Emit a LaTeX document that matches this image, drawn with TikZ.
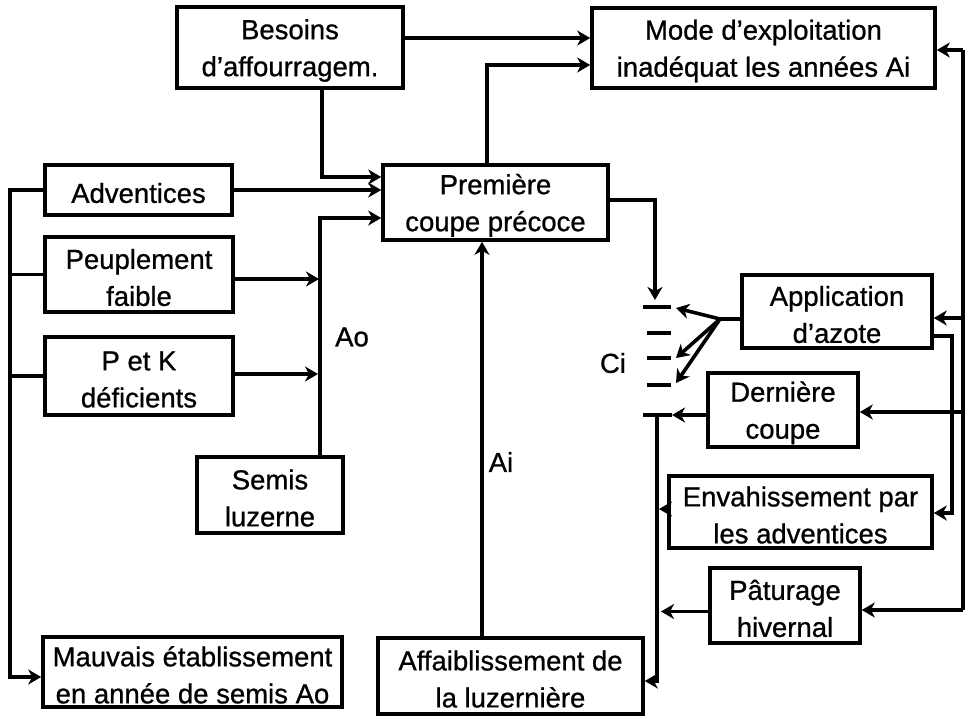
\documentclass[tikz,border=0pt]{standalone}
\usepackage{fontspec}
\setmainfont[FakeBold=0.8]{Liberation Sans}
\usetikzlibrary{arrows.meta,calc}
\newcommand\tup{\rule{0pt}{26pt}}
\begin{document}
\begin{tikzpicture}[x=1pt,y=-1pt,
  box/.style={draw,line width=3.6pt,align=center,inner sep=0pt,font=\fontsize{27.5}{37}\selectfont},
  arr/.style={line width=3.6pt,-{Stealth[length=13pt,width=15pt,inset=4pt]}},
  ln/.style={line width=3.6pt},
  dsh/.style={line width=3.6pt},
  lbl/.style={font=\fontsize{27.5}{37}\selectfont,inner sep=0pt}]
\useasboundingbox[fill=white] (0,0) rectangle (971,718);

% boxes
\node[box,minimum width=226pt,minimum height=81pt] (bes) at (290,47.5) {\tup Besoins\\d’affourragem.};
\node[box,minimum width=343pt,minimum height=80pt] (mode) at (763.5,48) {\tup Mode d’exploitation\\inadéquat les années Ai};
\node[box,minimum width=187pt,minimum height=50pt] (adv) at (138.5,190) {\tup Adventices};
\node[box,minimum width=225pt,minimum height=75pt] (prem) at (495.5,202.5) {\tup Première\\coupe précoce};
\node[box,minimum width=188pt,minimum height=75pt] (peu) at (139,274.5) {\tup Peuplement\\faible};
\node[box,minimum width=188pt,minimum height=78pt] (pk) at (139,376) {\tup P et K\\déficients};
\node[box,minimum width=146pt,minimum height=76pt] (sem) at (270,495) {\tup Semis\\luzerne};
\node[box,minimum width=299pt,minimum height=70pt] (mauv) at (192.5,672) {\tup Mauvais établissement\\en année de semis Ao};
\node[box,minimum width=265pt,minimum height=76pt] (aff) at (510.5,676) {\tup Affaiblissement de\\la luzernière};
\node[box,minimum width=190pt,minimum height=73pt] (app) at (837,311.5) {\tup Application\\d’azote};
\node[box,minimum width=150pt,minimum height=74pt] (der) at (783,410) {\tup Dernière\\coupe};
\node[box,minimum width=263pt,minimum height=72pt] (env) at (800.5,512) {\tup Envahissement par\\les adventices};
\node[box,minimum width=150pt,minimum height=75pt] (pat) at (785,605.5) {\tup Pâturage\\hivernal};

% labels
\node[lbl] (ao) at (352,337) {Ao};
\node[lbl] (ai) at (501,462) {Ai};
\node[lbl] (ci) at (613,363) {Ci};

% top connections
\coordinate (b1) at ($(bes.east)+(0,-9.5)$);
\draw[arr] (b1) -- (b1 -| mode.west);
\coordinate (p1) at ($(prem.north)+(-8.5,0)$);
\coordinate (m1) at ($(mode.west)+(0,17)$);
\draw[arr] (p1) |- (m1);
\coordinate (b2) at ($(bes.south)+(32,0)$);
\coordinate (pw1) at ($(prem.west)+(0,-25.5)$);
\draw[arr] (b2) |- (pw1);
\draw[arr] (adv.east) -- (adv.east -| prem.west);

% Ao bus
\coordinate (s1) at ($(sem.north)+(50,0)$);
\coordinate (pw2) at ($(prem.west)+(0,15.5)$);
\draw[arr] (s1) |- (pw2);
\coordinate (pe) at ($(peu.east)+(0,4.5)$);
\coordinate (pet) at ($(pe -| s1)+(-1,0)$);
\draw[arr] (pe) -- (pet);
\coordinate (pke) at ($(pk.east)+(0,-2)$);
\coordinate (pket) at ($(pke -| s1)+(-2,0)$);
\draw[arr] (pke) -- (pket);

% left bus
\coordinate (lb) at (10,190);
\coordinate (mw) at ($(mauv.west)+(0,5)$);
\draw[arr] (adv.west) -- (lb) |- (mw);
\draw[ln] (peu.west) -- (peu.west -| lb);
\draw[ln] (pk.west) -- (pk.west -| lb);

% Ai
\coordinate (a1) at ($(aff.north)+(-28.5,0)$);
\draw[arr] (a1) -- (a1 |- prem.south);

% Ci structure
\coordinate (d1l) at (643,307); \coordinate (d1r) at (671,307);
\coordinate (d2l) at (647,333); \coordinate (d2r) at (671,333);
\coordinate (d3l) at (647,358); \coordinate (d3r) at (671,358);
\coordinate (d4l) at (647,385); \coordinate (d4r) at (671,385);
\coordinate (d5l) at (643,415); \coordinate (d5r) at (672,415);
\draw[dsh] (d1l) -- (d1r);
\draw[dsh] (d2l) -- (d2r);
\draw[dsh] (d3l) -- (d3r);
\draw[dsh] (d4l) -- (d4r);
\draw[dsh] (d5l) -- (d5r);

\coordinate (ciin) at (655,300);
\coordinate (pe2) at ($(prem.east)+(0,-2.5)$);
\draw[arr] (pe2) -| (ciin);

\coordinate (fan) at (720,319);
\coordinate (f1) at (676,308);
\coordinate (f2) at (676,358);
\coordinate (f3) at (676,383);
\coordinate (aw) at ($(app.west)+(0,7.5)$);
\draw[ln] (aw) -- (fan);
\draw[arr] (fan) -- (f1);
\draw[arr] (fan) -- (f2);
\draw[arr] (fan) -- (f3);

\coordinate (dw) at ($(der.west)+(0,5)$);
\draw[arr] (dw) -- (dw -| d5r);

\coordinate (v1) at (657,415);
\coordinate (ae) at ($(aff.east)+(0,5)$);
\draw[arr] (v1) |- (ae);
\coordinate (ew) at ($(env.west)+(0,-3)$);
\coordinate (ewt) at ($(ew -| v1)+(2,0)$);
\draw[arr] (ew) -- (ewt);
\coordinate (pw) at ($(pat.west)+(0,6)$);
\coordinate (pwt) at ($(pw -| v1)+(4,0)$);
\draw[arr] (pw) -- (pwt);

% right bus
\coordinate (rbt) at (963,50);
\coordinate (rbb) at (963,610);
\draw[ln] (rbt) -- (rbb);
\draw[arr] (rbt) -- (rbt -| mode.east);
\draw[arr] (rbb) -- (rbb -| pat.east);
\coordinate (ar) at ($(app.east)+(0,6.5)$);
\draw[arr] (ar -| rbt) -- (ar);
\coordinate (dr) at ($(der.east)+(0,2)$);
\draw[arr] (dr -| rbt) -- (dr);

% second bus
\coordinate (ar2) at ($(app.east)+(0,24.5)$);
\coordinate (er) at ($(env.east)+(0,1)$);
\draw[arr] (ar2) -- ++(18,0) |- (er);
\end{tikzpicture}
\end{document}
